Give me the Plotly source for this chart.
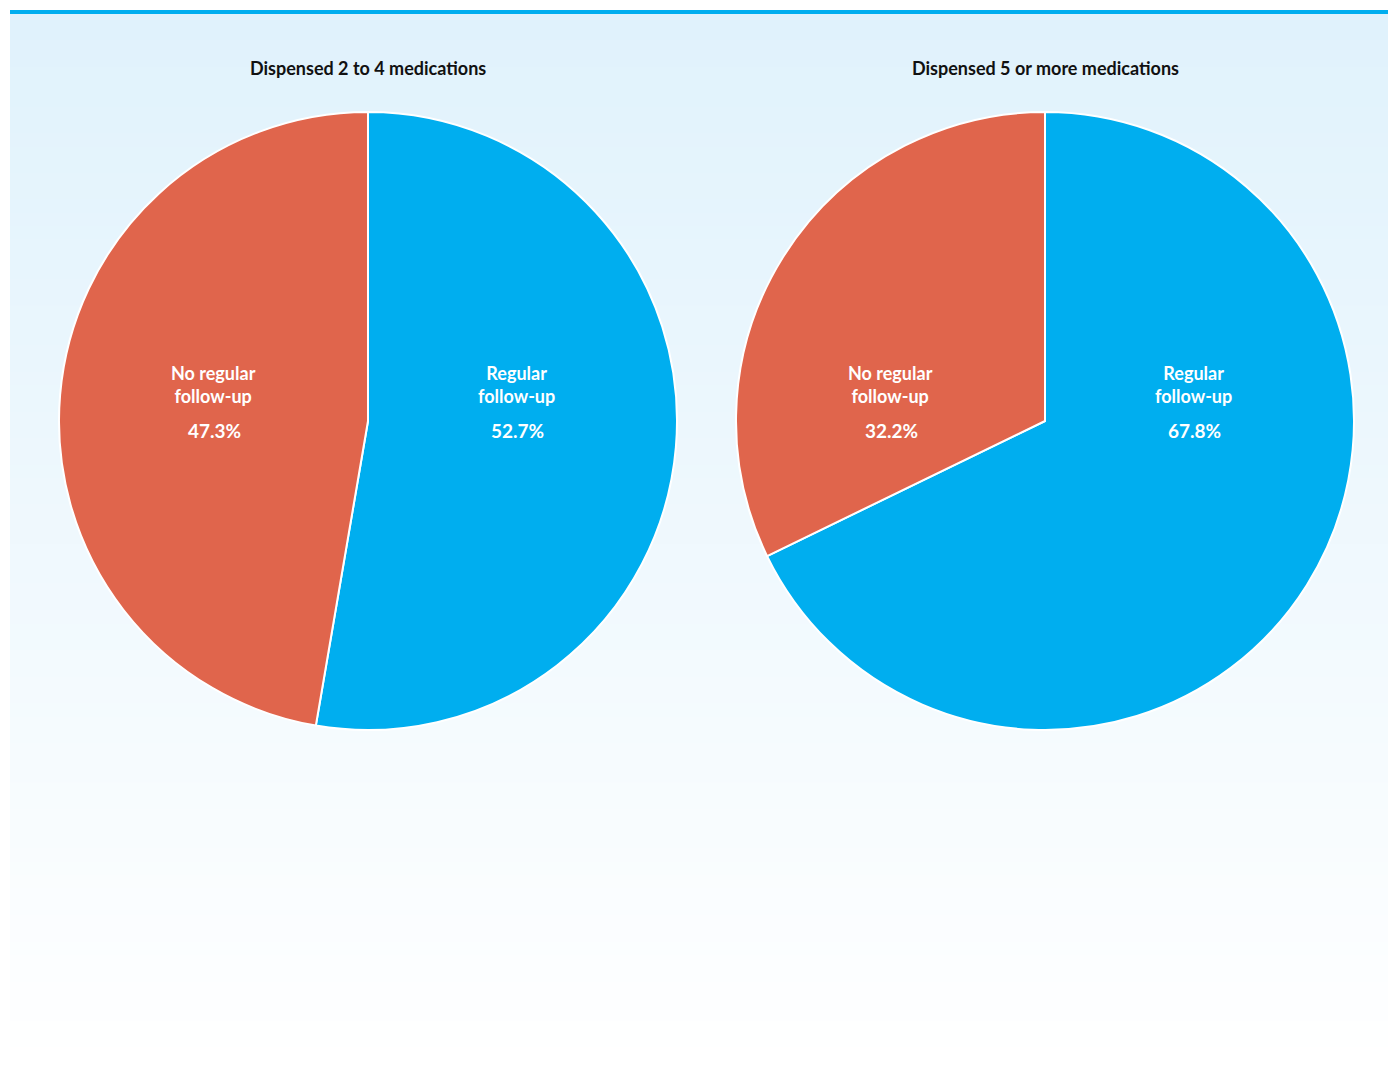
import plotly.graph_objects as go

W, H = 1388, 1074

titles = ["Dispensed 2 to 4 medications", "Dispensed 5 or more medications"]
categories = ["Regular<br>follow-up", "No regular<br>follow-up"]
values_2to4 = [52.7, 47.3]
values_5plus = [67.8, 32.2]
colors = ["#00AEEF", "#E0654C"]

fig = go.Figure()

centers = [(368, 421), (1045, 421)]
R = 309


def px_x(x):
    return x / W


def px_y(y):
    return 1 - y / H


for (cx, cy), vals, title in zip(centers, [values_2to4, values_5plus], titles):
    fig.add_trace(go.Pie(
        labels=categories, values=vals, sort=False, direction="clockwise",
        rotation=0, textinfo="none", hoverinfo="label+percent",
        marker=dict(colors=colors, line=dict(color="white", width=2)),
        domain=dict(x=[px_x(cx - R), px_x(cx + R)], y=[px_y(cy + R), px_y(cy - R)]),
        showlegend=False,
    ))
    fig.add_annotation(x=px_x(cx), y=px_y(68), xref="paper", yref="paper",
                       xanchor="center", yanchor="middle",
                       text=title, showarrow=False,
                       font=dict(family="Lato", size=18, color="#111111", weight="bold"))
    offsets = [148, -155]
    for cat, v, dx in zip(categories, vals, offsets):
        fig.add_annotation(x=px_x(cx + dx), y=px_y(385), xref="paper", yref="paper",
                           xanchor="center", yanchor="middle",
                           text=cat, showarrow=False,
                           font=dict(family="Lato", size=18, color="white", weight="bold"))
        fig.add_annotation(x=px_x(cx + dx + 1), y=px_y(431), xref="paper", yref="paper",
                           xanchor="center", yanchor="middle",
                           text=f"{v:.1f}%", showarrow=False,
                           font=dict(family="Lato", size=19, color="white", weight="bold"))

# background gradient panel
shapes = []
top, bottom = 14, 1074
n = 80
c0 = (224, 242, 252)
c1 = (255, 255, 255)
for i in range(n):
    y0 = top + (bottom - top) * i / n
    y1 = min(top + (bottom - top) * (i + 1) / n + 1, bottom)
    t = i / (n - 1)
    c = tuple(round(a + (b - a) * t) for a, b in zip(c0, c1))
    shapes.append(dict(type="rect", xref="paper", yref="paper",
                       x0=px_x(10), x1=1, y0=px_y(y1), y1=px_y(y0),
                       fillcolor=f"rgb{c}", line=dict(width=0), layer="below"))
shapes.append(dict(type="rect", xref="paper", yref="paper",
                   x0=px_x(10), x1=1, y0=px_y(14), y1=px_y(10),
                   fillcolor="#00AEEF", line=dict(width=0), layer="below"))

fig.update_layout(
    width=W, height=H,
    margin=dict(l=0, r=0, t=0, b=0),
    paper_bgcolor="white",
    plot_bgcolor="white",
    shapes=shapes,
)

fig.write_html(
    "out.html",
    config={"displayModeBar": False},
    post_script="document.body.style.margin='0';document.body.style.overflow='hidden';",
)
